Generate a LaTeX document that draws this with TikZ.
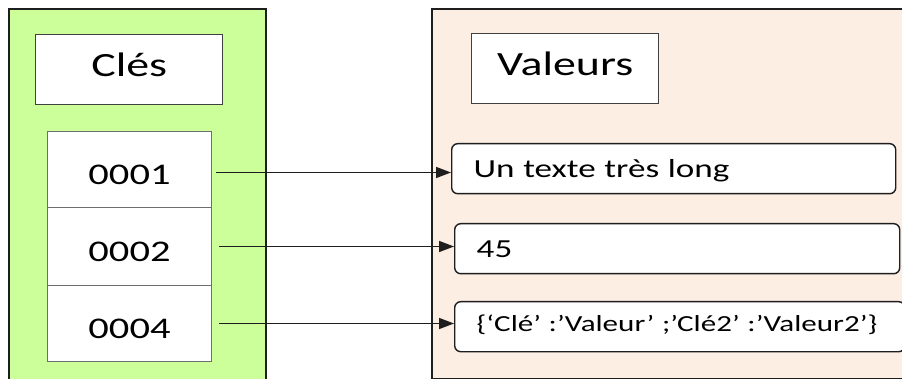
\documentclass[tikz,border=0pt]{standalone}
\usepackage{fontspec}
\setmainfont{Carlito}[FakeStretch=1.35]
\usetikzlibrary{arrows.meta}
\definecolor{keygreen}{RGB}{204,255,153}
\definecolor{valpeach}{RGB}{253,238,228}
\definecolor{frameink}{RGB}{30,30,30}
\definecolor{boxink}{RGB}{64,64,64}
\definecolor{cellink}{RGB}{110,110,110}
\begin{document}
\begin{tikzpicture}[x=1pt,y=-1pt,
  panel/.style={draw=frameink,line width=2pt,anchor=north west,inner sep=0pt},
  header/.style={draw=boxink,line width=1.4pt,fill=white,anchor=north west,inner sep=0pt,
    minimum width=187pt,minimum height=70pt,text height=13pt,text depth=0pt,
    font=\fontsize{34}{40}\selectfont},
  keycell/.style={draw=cellink,line width=1pt,fill=white,anchor=north west,inner sep=0pt,
    minimum width=164pt,text height=30pt,text depth=0pt,font=\fontsize{30}{36}\selectfont},
  valbox/.style={draw=frameink,line width=1.4pt,fill=white,rounded corners=6pt,anchor=north west,
    inner xsep=22pt,inner ysep=0pt,minimum height=50pt,align=left,text height=18pt,text depth=0pt,
    font=\fontsize{26}{30}\selectfont},
  link/.style={draw=frameink,line width=1.6pt,-{Triangle[length=15pt,width=11pt]}}]
\useasboundingbox (0,0) rectangle (902,379);
\clip (0,0) rectangle (902,379);

% the two columns
\node[panel,fill=keygreen,minimum width=257pt,minimum height=380pt] (keys) at (8,8) {};
\node[panel,fill=valpeach,minimum width=480pt,minimum height=370pt] (vals) at (431,8) {};

% column titles
\node[header] (kt) at (35,34) {Clés};
\node[header] (vt) at (471,33) {Valeurs};

% key cells
\node[keycell,minimum height=76pt] (k1) at (47,131) {0001};
\node[keycell,minimum height=78pt] (k2) at (47,207) {0002};
\node[keycell,minimum height=76pt] (k3) at (47,285) {0004};

% value boxes
\node[valbox,text width=400pt] (v1) at (451,143) {Un texte très long};
\node[valbox,text width=401pt] (v2) at (454,223) {45};
\node[valbox,text width=406pt,text height=10pt,font=\fontsize{23}{28}\selectfont] (v3) at (454,301)
  {\{‘Clé’ :’Valeur’ ;’Clé2’ :’Valeur2’\}};

% key -> value links
\draw[link] ([xshift=4pt,yshift=-3pt]k1.east) -- ([yshift=-3pt]k1.east -| v1.west);
\draw[link] ([xshift=7pt]k2.east) -- (k2.east -| v2.west);
\draw[link] ([xshift=7pt]k3.east) -- (k3.east -| v3.west);
\end{tikzpicture}
\end{document}
